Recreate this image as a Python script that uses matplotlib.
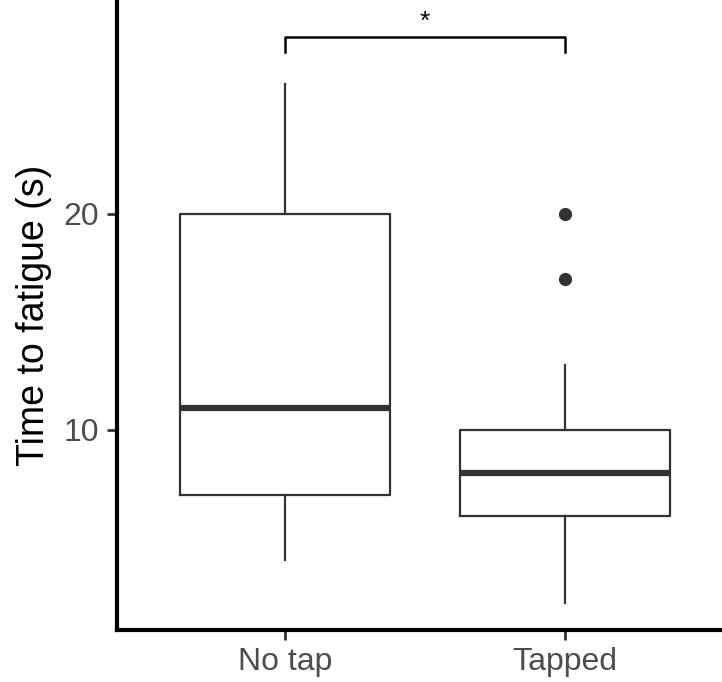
import matplotlib
matplotlib.use("Agg")
import matplotlib.pyplot as plt

# group summaries (seconds)
groups = ["No tap", "Tapped"]
q1 = [7, 6]
medians = [11, 8]
q3 = [20, 10]
whisker_low = [4, 2]
whisker_high = [26, 13]
outliers = [[], [17, 20]]

bracket_y = 28.2
bracket_drop = 0.7
sig_label = "*"

plt.rcParams['font.family'] = ['Liberation Sans', 'DejaVu Sans']

fig = plt.figure(figsize=(7.22, 6.82), dpi=100)
ax = fig.add_axes([117 / 722, 52 / 682, 1 - 117 / 722, 630 / 682])

stats = []
for i, g in enumerate(groups):
    stats.append(dict(label=g, q1=q1[i], med=medians[i], q3=q3[i],
                      whislo=whisker_low[i], whishi=whisker_high[i],
                      fliers=outliers[i]))

positions = [1, 2]
ax.bxp(stats, positions=positions, widths=0.75, showcaps=False,
       boxprops=dict(color="#333333", linewidth=1.6),
       whiskerprops=dict(color="#333333", linewidth=1.6),
       medianprops=dict(color="#333333", linewidth=4.5, solid_capstyle="butt"),
       flierprops=dict(marker="o", markerfacecolor="#333333",
                       markeredgecolor="#333333", markersize=8.5))

# significance bracket
ax.plot([positions[0], positions[0], positions[1], positions[1]],
        [bracket_y - bracket_drop, bracket_y, bracket_y, bracket_y - bracket_drop],
        color="black", linewidth=1.8, clip_on=False)
ax.text((positions[0] + positions[1]) / 2, bracket_y + 0.15, sig_label,
        ha="center", va="bottom", fontsize=19, color="black")

ax.set_xlim(0.4, 2.561)
ax.set_ylim(0.74, 29.9)
ax.set_yticks([10, 20])
ax.set_xticks(positions)
ax.set_xticklabels(groups)
ax.set_ylabel("Time to fatigue (s)", fontsize=27, color="black", labelpad=8)

for side in ["top", "right"]:
    ax.spines[side].set_visible(False)
for side in ["left", "bottom"]:
    ax.spines[side].set_linewidth(3)
    ax.spines[side].set_color("black")

ax.tick_params(axis="both", length=7, width=2, color="#333333",
               labelsize=23, labelcolor="#4d4d4d")
ax.tick_params(axis="y", pad=6)
ax.tick_params(axis="x", pad=5)

fig.savefig("out.png", dpi=100)
